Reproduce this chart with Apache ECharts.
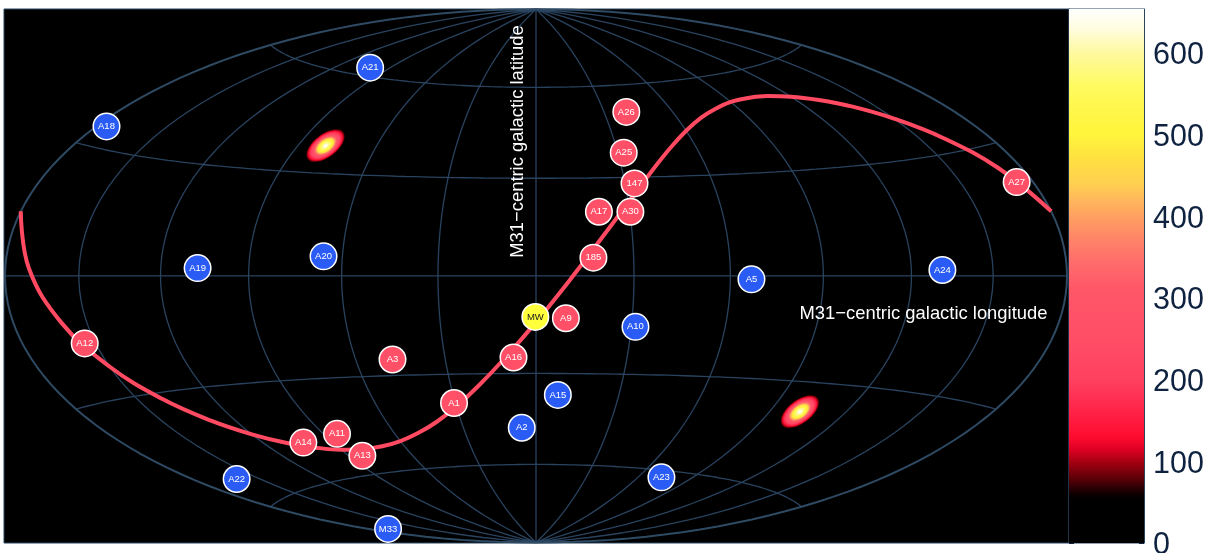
<!DOCTYPE html>
<html><head><meta charset="utf-8">
<style>html,body{margin:0;padding:0;background:#fff}#c{width:1213px;height:553px}</style>
<script src="https://cdn.jsdelivr.net/npm/echarts@6/dist/echarts.min.js"></script>
</head><body><div id="c"></div>
<script>
// ---- data (M31-centric galactic lon / lat, degrees) ----
const blueNames = ["A21","A18","A19","A20","A2","A22","M33","A24","A5","A10","A15","A23"];
const blueLon   = [-101.0,-175.6,-107.2,-66.0,-5.9,-160.5,-171.3,131.1,66.7,31.3,7.9,73.1];
const blueLat   = [62.6,34.7,2.1,5.7,-47.5,-53.1,-73.6,1.5,-1.0,-15.4,-36.8,-62.3];
const redNames  = ["A12","A3","A16","A1","A14","A11","A13","A26","A25","147","A17","A30","185","A27","A9"];
const redLon    = [-154.3,-47.6,-7.4,-30.5,-102.7,-84.3,-83.7,39.8,32.2,33.2,20.1,30.2,17.6,173.0,9.3];
const redLat    = [-16.2,-25.1,-25.0,-39.1,-48.1,-46.7,-54.0,50.9,37.8,28.1,19.5,19.4,5.5,21.2,-12.9];
const mwNames   = ["MW"];
const mwLon     = [-0.2];
const mwLat     = [-12.5];
const planeLon  = [-180,-170,-160,-150,-140,-130,-120,-110,-100,-90,-80,-70,-60,-50,-40,-30,-20,-10,0,10,20,30,40,50,60,70,80,90,100,110,120,130,140,150,160,170,180];
const planeLat  = [14.0,1.7,-11.0,-22.3,-31.6,-38.7,-43.9,-47.6,-50.0,-51.5,-52.0,-51.7,-50.5,-48.3,-45.0,-40.2,-33.6,-24.9,-14.1,-1.7,11.0,22.3,31.6,38.7,43.9,47.6,50.0,51.5,52.0,51.7,50.5,48.3,45.0,40.2,33.6,24.9,14.0];
const blobLon   = [-79.4,101.8];
const blobLat   = [38.2,-38.5];
const blobLevels= [60,90,110,140,180,230,280,330,370,410,450,490,540,590,640];
const blobLong  = [23,22,21,20,18.5,17,15,13,12,11,10,9,7,5,2.5];
const blobShort = [12,11.4,11,10.5,9.8,9,8.2,7.4,6.8,6.2,5.6,5,4,3,1.6];
const scaleMax  = 653.5;
const scaleTicks= [0,100,200,300,400,500,600];
const scaleVals = [0,55,65,80,100,115,130,170,200,250,310,340,370,400,420,440,470,500,520,560,600,630,653.5];
const scaleCols = ["#000000","#000000","#200002","#600008","#a80012","#e00024","#ff0c30","#ff2a4e","#ff4060","#ff4e66","#ff5668","#ff6a6c","#ff8268","#ffa060","#ffb85c","#ffd050","#ffe040","#fff53c","#fff544","#fffb60","#fff9a0","#fffde0","#ffffff"];
const meridians = [-180,-150,-120,-90,-60,-30,0,30,60,90,120,150,180];
const parallels = [-60,-30,0,30,60];

// Hammer projection -> axis units
function hammer(lon,lat){
  const l=lon*Math.PI/180,f=lat*Math.PI/180;
  const d=Math.sqrt(1+Math.cos(f)*Math.cos(l/2));
  return [Math.cos(f)*Math.sin(l/2)/d, Math.sin(f)/d];
}
const pts=(names,lon,lat)=>names.map((n,i)=>({name:n,value:hammer(lon[i],lat[i])}));
const gridLine=[];
meridians.filter(m=>Math.abs(m)<180).forEach(m=>{for(let f=-90;f<=90;f+=2)gridLine.push(hammer(m,f));gridLine.push([null,null]);});
parallels.forEach(p=>{for(let l=-180;l<=180;l+=3)gridLine.push(hammer(l,p));gridLine.push([null,null]);});
const rim=[];
[-180,180].forEach(m=>{for(let f=-90;f<=90;f+=2)rim.push(hammer(m,f));rim.push([null,null]);});

function hex(c){return [1,3,5].map(i=>parseInt(c.substr(i,2),16));}
function colorAt(v){
  for(let i=1;i<scaleVals.length;i++){
    if(v<=scaleVals[i]){
      const t=(v-scaleVals[i-1])/(scaleVals[i]-scaleVals[i-1]);
      const a=hex(scaleCols[i-1]),b=hex(scaleCols[i]);
      return 'rgb('+a.map((x,k)=>Math.round(x+(b[k]-x)*t)).join(',')+')';
    }
  }
  return scaleCols[scaleCols.length-1];
}
const ink='#0f2340', frame='#2a4560';
const FONT='"Liberation Sans",Arial,sans-serif';
function marker(name,data,color,labelColor,z){
  return {type:'scatter',name,xAxisIndex:0,yAxisIndex:0,data,symbol:'circle',symbolSize:26.5,z,
    itemStyle:{color,borderColor:'#fff',borderWidth:1.5,opacity:1},
    label:{show:true,position:'inside',formatter:'{b}',color:labelColor,fontFamily:FONT,fontSize:9.5},
    silent:true,animation:false};
}
const chart=echarts.init(document.getElementById('c'),null,{renderer:'canvas'});
chart.setOption({
  animation:false,
  backgroundColor:'#ffffff',
  grid:[
    {left:4,top:9,width:1065,height:534,outerBoundsMode:'none',show:true,backgroundColor:'#000',borderColor:frame,borderWidth:1},
    {left:1069,top:9,width:75,height:534,outerBoundsMode:'none',show:true,backgroundColor:'transparent',borderColor:frame,borderWidth:1}
  ],
  xAxis:[
    {type:'value',gridIndex:0,min:-1.00188,max:1.00377,show:false},
    {type:'category',gridIndex:1,data:['scale'],show:false}
  ],
  yAxis:[
    {type:'value',gridIndex:0,min:-1.0019,max:1.0008,show:false},
    {type:'value',gridIndex:1,position:'right',min:0,max:scaleMax,splitLine:{show:false},
      axisLine:{show:true,lineStyle:{color:frame,width:1}},
      axisTick:{show:true,inside:true,length:5,customValues:scaleTicks,lineStyle:{color:ink,width:1}},
      axisLabel:{show:true,margin:9,customValues:scaleTicks,hideOverlap:false,
        formatter:v=>'{d|'+v+'}',
        rich:{d:{color:ink,fontFamily:FONT,fontSize:30.5,padding:[6,0,0,0]}}}},
    {type:'value',gridIndex:1,position:'left',min:0,max:scaleMax,splitLine:{show:false},
      axisLine:{show:true,lineStyle:{color:frame,width:1}},
      axisTick:{show:true,inside:true,length:5,customValues:scaleTicks,lineStyle:{color:ink,width:1}},
      axisLabel:{show:false}}
  ],
  series:[
    {type:'bar',xAxisIndex:1,yAxisIndex:1,data:[scaleMax],barWidth:'100%',silent:true,z:1,
      itemStyle:{color:new echarts.graphic.LinearGradient(0,1,0,0,scaleVals.map((v,i)=>({offset:v/scaleMax,color:scaleCols[i]})))}},
    {type:'line',xAxisIndex:0,yAxisIndex:0,data:gridLine,showSymbol:false,symbol:'none',connectNulls:false,silent:true,z:2,
      lineStyle:{color:'#29435f',width:1.3}},
    {type:'line',xAxisIndex:0,yAxisIndex:0,data:rim,showSymbol:false,symbol:'none',connectNulls:false,silent:true,z:2,clip:false,
      lineStyle:{color:'#2f4a63',width:2}},
    {type:'custom',xAxisIndex:0,yAxisIndex:0,silent:true,z:3,clip:true,
      data:blobLon.map((l,i)=>hammer(l,blobLat[i])),
      encode:{x:0,y:1},
      renderItem:(p,api)=>{
        const c=api.coord([api.value(0),api.value(1)]);
        return {type:'group',children:blobLevels.map((v,i)=>({
          type:'ellipse',x:c[0],y:c[1],rotation:37*Math.PI/180,
          shape:{cx:0,cy:0,rx:blobLong[i],ry:blobShort[i]},
          style:{fill:colorAt(v)}}))};
      }},
    {type:'line',name:'plane',xAxisIndex:0,yAxisIndex:0,data:planeLon.map((l,i)=>hammer(l,planeLat[i])),
      showSymbol:false,symbol:'none',smooth:0.4,silent:true,z:4,
      lineStyle:{color:'#ff4a62',width:4,cap:'butt'}},
    marker('blue',pts(blueNames,blueLon,blueLat),'#2a5cf5','#ffffff',5),
    marker('red',pts(redNames,redLon,redLat),'#ff5068','#ffffff',5),
    marker('mw',pts(mwNames,mwLon,mwLat),'#ffff3c','#1a1a1a',6)
  ],
  graphic:[
    {type:'text',x:518,y:141.5,rotation:Math.PI/2,z:20,silent:true,
      style:{text:'M31\u2212centric galactic latitude',fill:'#fff',font:'18.4px '+FONT,align:'center',verticalAlign:'middle'}},
    {type:'text',x:923.5,y:314,z:20,silent:true,
      style:{text:'M31\u2212centric galactic longitude',fill:'#fff',font:'18.4px '+FONT,align:'center',verticalAlign:'middle'}}
  ]
});
</script></body></html>
